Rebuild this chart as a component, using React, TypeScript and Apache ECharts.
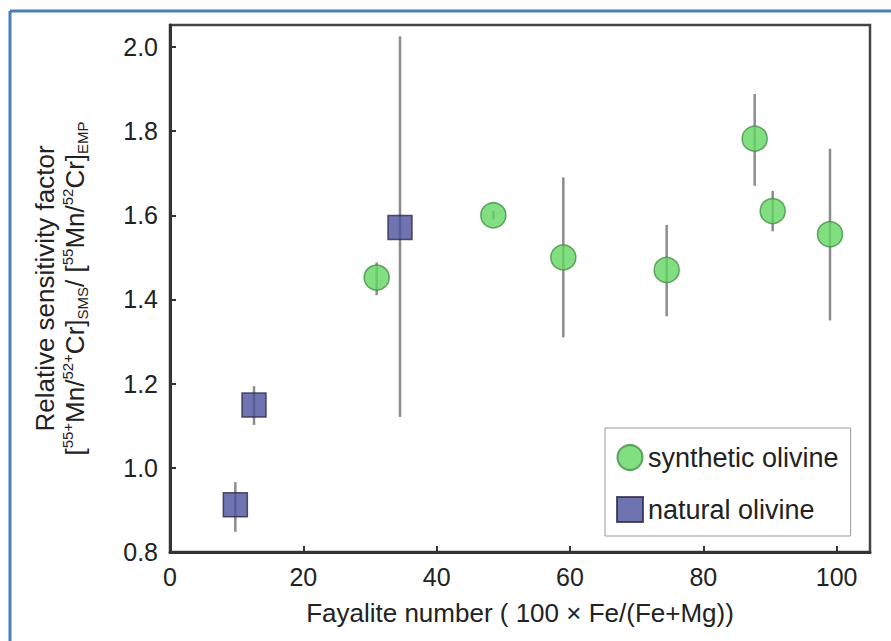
import React, { useEffect, useRef } from "react";
import * as echarts from "echarts";

const xTicks = [0, 20, 40, 60, 80, 100];
const yTicks = [0.8, 1.0, 1.2, 1.4, 1.6, 1.8, 2.0];

const synthX = [31, 48.5, 59, 74.5, 87.7, 90.4, 99];
const synthY = [1.452, 1.6, 1.5, 1.47, 1.782, 1.61, 1.555];
const synthLo = [1.41, 1.59, 1.31, 1.36, 1.67, 1.562, 1.35];
const synthHi = [1.488, 1.61, 1.69, 1.577, 1.888, 1.658, 1.758];

const natX = [9.8, 12.6, 34.5];
const natY = [0.912, 1.149, 1.571];
const natLo = [0.848, 1.102, 1.121];
const natHi = [0.966, 1.194, 2.025];

const FONT = "'Liberation Sans', Arial, Helvetica, sans-serif";

export default function App() {
  const ref = useRef<HTMLDivElement>(null);
  useEffect(() => {
    if (!ref.current) return;
    const chart = echarts.init(ref.current, null, { renderer: "svg" });

    const errRender = (params: any, api: any) => {
      const x = api.value(0);
      const p1 = api.coord([x, api.value(1)]);
      const p2 = api.coord([x, api.value(2)]);
      return {
        type: "line",
        shape: { x1: p1[0], y1: p1[1], x2: p2[0], y2: p2[1] },
        style: { stroke: "#8c8c8c", lineWidth: 2.5 },
      };
    };

    const synthErr = synthX.map((x, i) => [x, synthLo[i], synthHi[i]]);
    const natErr = natX.map((x, i) => [x, natLo[i], natHi[i]]);

    chart.setOption({
      animation: false,
      backgroundColor: "#ffffff",
      textStyle: { fontFamily: FONT },
      grid: {
        left: 170,
        right: 21,
        top: 25,
        bottom: 89,
        show: true,
        borderColor: "#444",
        borderWidth: 2.5,
        containLabel: false,
      },
      graphic: [
        {
          type: "line",
          shape: { x1: 10, y1: 11, x2: 891, y2: 11 },
          style: { stroke: "#4a7eb3", lineWidth: 3 },
          silent: true,
        },
        {
          type: "line",
          shape: { x1: 10, y1: 11, x2: 10, y2: 641 },
          style: { stroke: "#4a7eb3", lineWidth: 3 },
          silent: true,
        },
      ],
      legend: {
        data: ["synthetic olivine", "natural olivine"],
        orient: "vertical",
        left: 605,
        top: 428,
        padding: [16, 12, 13, 11],
        itemWidth: 26,
        itemHeight: 25,
        itemGap: 25,
        borderColor: "#999",
        borderWidth: 1,
        backgroundColor: "#fff",
        textStyle: { fontSize: 27, color: "#222", fontFamily: FONT },
      },
      xAxis: {
        type: "value",
        min: 0,
        max: 105,
        interval: 20,
        name: "Fayalite number ( 100 × Fe/(Fe+Mg))",
        nameLocation: "middle",
        nameGap: 48,
        nameTextStyle: { fontSize: 26, color: "#222", fontFamily: FONT },
        axisLine: { onZero: false, lineStyle: { color: "#333", width: 3 } },
        axisTick: { inside: true, length: 6, lineStyle: { color: "#333", width: 2 } },
        axisLabel: {
          fontSize: 25,
          color: "#222",
          margin: 12,
          showMaxLabel: false,
          formatter: (v: number) => (xTicks.includes(v) ? String(v) : ""),
        },
        splitLine: { show: false },
      },
      yAxis: {
        type: "value",
        min: 0.8,
        max: 2.052,
        interval: 0.2,
        name:
          "{a|Relative sensitivity factor}\n" +
          "{b|[}{sp|55+}{b|Mn/}{sp|52+}{b|Cr]}{sb|SMS}{b|/ [}{sp|55}{b|Mn/}{sp|52}{b|Cr]}{sb|EMP}",
        nameLocation: "middle",
        nameRotate: 90,
        nameGap: 80,
        nameTextStyle: {
          color: "#222",
          fontFamily: FONT,
          align: "center",
          rich: {
            a: { fontSize: 26, lineHeight: 30, color: "#222", fontFamily: FONT },
            b: { fontSize: 26, lineHeight: 30, color: "#222", fontFamily: FONT },
            sp: { fontSize: 15, lineHeight: 30, verticalAlign: "top", color: "#222", fontFamily: FONT },
            sb: { fontSize: 15, lineHeight: 30, verticalAlign: "bottom", color: "#222", fontFamily: FONT },
          },
        },
        axisLine: { onZero: false, lineStyle: { color: "#333", width: 3 } },
        axisTick: { inside: true, length: 6, lineStyle: { color: "#333", width: 2 } },
        axisLabel: {
          fontSize: 25,
          color: "#222",
          margin: 12,
          showMaxLabel: false,
          formatter: (v: number) => {
            const r = Math.round(v * 10) / 10;
            return yTicks.some((t) => Math.abs(t - v) < 1e-6) ? r.toFixed(1) : "";
          },
        },
        splitLine: { show: false },
      },
      series: [
        {
          type: "custom",
          name: "synthetic error",
          renderItem: errRender,
          encode: { x: 0, y: [1, 2] },
          data: synthErr,
          z: 1,
          silent: true,
        },
        {
          type: "custom",
          name: "natural error",
          renderItem: errRender,
          encode: { x: 0, y: [1, 2] },
          data: natErr,
          z: 1,
          silent: true,
        },
        {
          type: "scatter",
          name: "synthetic olivine",
          symbol: "circle",
          symbolSize: 25,
          data: synthX.map((x, i) => [x, synthY[i]]),
          itemStyle: { color: "#62d662", borderColor: "#448f44", borderWidth: 1.5 },
          z: 3,
        },
        {
          type: "scatter",
          name: "natural olivine",
          symbol: "rect",
          symbolSize: 24,
          data: natX.map((x, i) => [x, natY[i]]),
          itemStyle: { color: "#4b519c", borderColor: "#2a2a4a", borderWidth: 1.5 },
          z: 3,
        },
      ],
    });
    return () => chart.dispose();
  }, []);
  return (
    <div
      ref={ref}
      style={{ position: "fixed", left: 0, top: 0, width: 891, height: 641, background: "#fff" }}
    />
  );
}
